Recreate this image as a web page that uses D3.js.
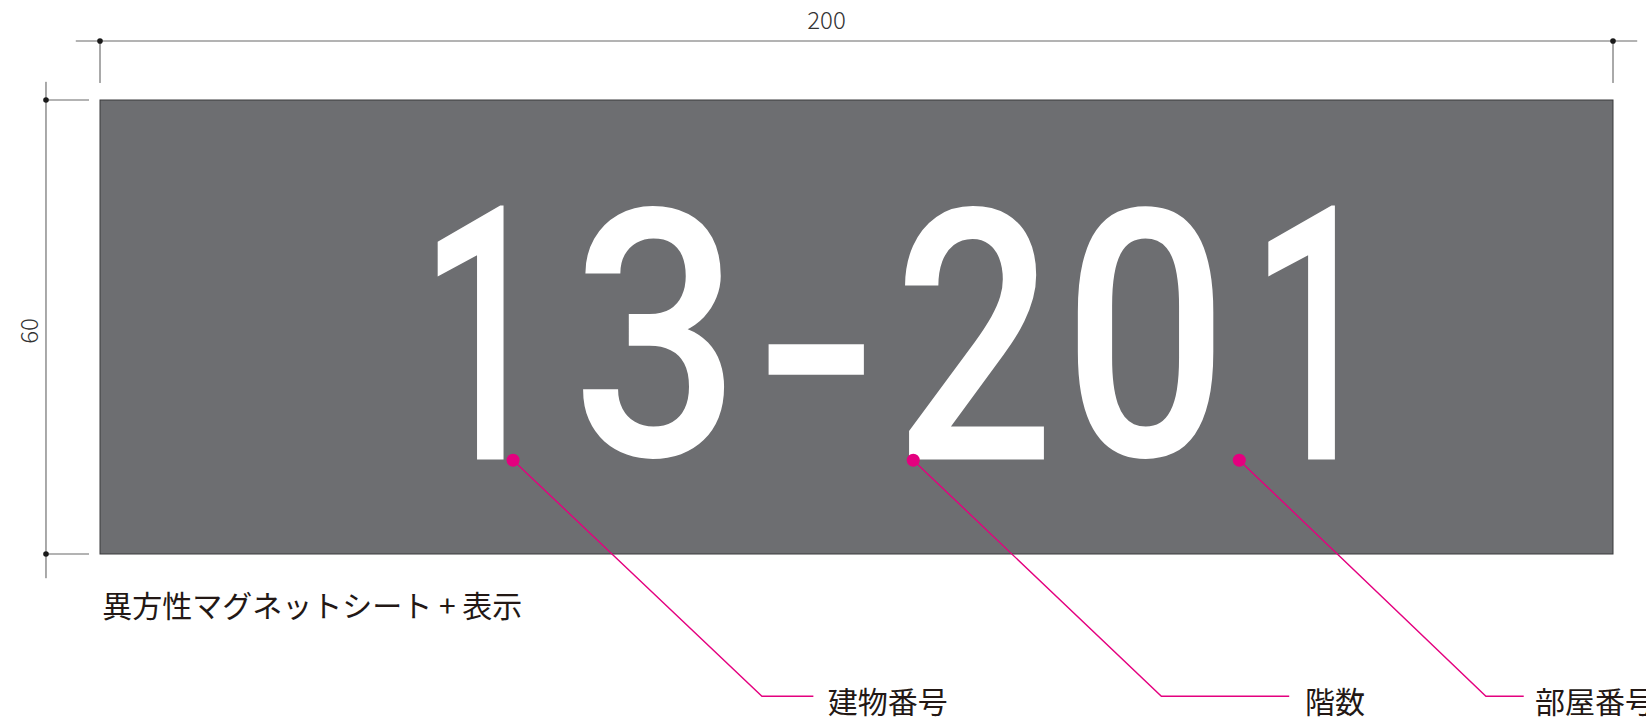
<!DOCTYPE html>
<html>
<head>
<meta charset="utf-8">
<script src="https://cdn.jsdelivr.net/npm/d3@7"></script>
<style>
  html, body { margin: 0; padding: 0; background: #fff; }
  svg { display: block; }
</style>
</head>
<body>
<svg id="plot"></svg>
<script>
// Plate size (mm) and dimension labels
const plateSize = [200, 60];
const dimLabels = ["200", "60"];

// Plate number glyphs and their ink boxes on the plate (mm)
const plateGlyphs = ["1", "3", "-", "2", "0", "1"];
const glyphLeft = [44.5, 63.6, 88.0, 106.1, 129.1, 154.3];
const glyphRight = [53.8, 82.6, 101.7, 124.8, 147.7, 163.7];
const glyphTop = [13.7, 13.4, 31.9, 13.4, 13.4, 13.7];
const glyphBottom = [47.5, 47.7, 36.6, 47.5, 47.7, 47.5];

// Callouts (mm)
const calloutLabels = ["建物番号", "階数", "部屋番号"];
const calloutDotX = [54.6, 107.5, 150.6];
const calloutDotY = 47.6;
const calloutElbowX = [87.5, 140.3, 183.2];
const calloutElbowY = 78.8;
const calloutEndX = [94.3, 157.2, 188.2];
const calloutTextX = [96.2, 159.3, 189.7];
const calloutTextY = 81.0;

const caption = "異方性マグネットシート + 表示";

const width = 1646, height = 721;
const svg = d3.select("#plot").attr("width", width).attr("height", height);

// mm -> px scales
const x = d3.scaleLinear().domain([0, plateSize[0]]).range([100, 1613]);
const y = d3.scaleLinear().domain([0, plateSize[1]]).range([100, 554]);

const cjk = "'Noto Sans CJK JP', 'Noto Sans', sans-serif";
const pink = "#e4007f";

// Plate
svg.append("rect")
    .attr("x", x(0))
    .attr("y", y(0))
    .attr("width", x(plateSize[0]) - x(0))
    .attr("height", y(plateSize[1]) - y(0))
    .attr("fill", "#6d6e71")
    .attr("stroke", "#3a3a3c")
    .attr("stroke-width", 1);

// Width dimension
const dimG = svg.append("g");
dimG.append("line")
    .attr("x1", x(-3.2)).attr("x2", x(203.2))
    .attr("y1", y(-7.8)).attr("y2", y(-7.8))
    .attr("stroke", "#9a9a9a").attr("stroke-width", 1.3);
[0, plateSize[0]].forEach(function (v) {
    dimG.append("line")
        .attr("x1", x(v)).attr("x2", x(v))
        .attr("y1", y(-7.8)).attr("y2", y(-2.25))
        .attr("stroke", "#555").attr("stroke-width", 1);
    dimG.append("circle")
        .attr("cx", x(v)).attr("cy", y(-7.8)).attr("r", 2.8)
        .attr("fill", "#1a1a1a");
});
dimG.append("text")
    .attr("x", x(plateSize[0] / 2) - 30)
    .attr("y", 29)
    .attr("text-anchor", "middle")
    .attr("font-family", cjk)
    .attr("font-weight", 300)
    .attr("font-size", 24)
    .attr("fill", "#333")
    .text(dimLabels[0]);

// Height dimension
dimG.append("line")
    .attr("x1", x(-7.14)).attr("x2", x(-7.14))
    .attr("y1", y(-2.4)).attr("y2", y(63.2))
    .attr("stroke", "#555").attr("stroke-width", 1);
[0, plateSize[1]].forEach(function (v) {
    dimG.append("line")
        .attr("x1", x(-7.14)).attr("x2", x(-1.45))
        .attr("y1", y(v)).attr("y2", y(v))
        .attr("stroke", "#9a9a9a").attr("stroke-width", 1.3);
    dimG.append("circle")
        .attr("cx", x(-7.14)).attr("cy", y(v)).attr("r", 2.8)
        .attr("fill", "#1a1a1a");
});
dimG.append("text")
    .attr("transform", "translate(38," + 331 + ") rotate(-90)")
    .attr("text-anchor", "middle")
    .attr("font-family", cjk)
    .attr("font-weight", 300)
    .attr("font-size", 24)
    .attr("fill", "#333")
    .text(dimLabels[1]);

// Plate number: each glyph fitted to its ink box
const glyphFont = "500 360px Roboto";
const ctx = document.createElement("canvas").getContext("2d");
ctx.font = glyphFont;
const glyphG = svg.append("g");
plateGlyphs.forEach(function (g, i) {
    const m = ctx.measureText(g);
    const w = m.actualBoundingBoxLeft + m.actualBoundingBoxRight;
    const h = m.actualBoundingBoxAscent + m.actualBoundingBoxDescent;
    const W = x(glyphRight[i]) - x(glyphLeft[i]);
    const H = y(glyphBottom[i]) - y(glyphTop[i]);
    const sx = W / w, sy = H / h;
    const tx = x(glyphLeft[i]) + m.actualBoundingBoxLeft * sx;
    const ty = y(glyphTop[i]) + m.actualBoundingBoxAscent * sy;
    glyphG.append("text")
        .attr("transform", "translate(" + tx + "," + ty + ") scale(" + sx + "," + sy + ")")
        .attr("font-family", "Roboto")
        .attr("font-weight", 500)
        .attr("font-size", 360)
        .attr("fill", "#fff")
        .text(g);
});

// Callouts
const callG = svg.append("g");
calloutLabels.forEach(function (label, i) {
    callG.append("polyline")
        .attr("points", [
            [x(calloutDotX[i]), y(calloutDotY)],
            [x(calloutElbowX[i]), y(calloutElbowY)],
            [x(calloutEndX[i]), y(calloutElbowY)]
        ].map((p) => p.join(",")).join(" "))
        .attr("fill", "none")
        .attr("stroke", pink)
        .attr("stroke-width", 1.4);
    callG.append("circle")
        .attr("cx", x(calloutDotX[i]))
        .attr("cy", y(calloutDotY))
        .attr("r", 6.5)
        .attr("fill", pink);
    callG.append("text")
        .attr("x", x(calloutTextX[i]))
        .attr("y", y(calloutTextY))
        .attr("font-family", cjk)
        .attr("font-size", 30)
        .attr("fill", "#231815")
        .text(label);
});

// Caption
svg.append("text")
    .attr("x", x(0.3))
    .attr("y", 617)
    .attr("font-family", cjk)
    .attr("font-size", 30)
    .attr("fill", "#231815")
    .text(caption);
</script>
</body>
</html>
